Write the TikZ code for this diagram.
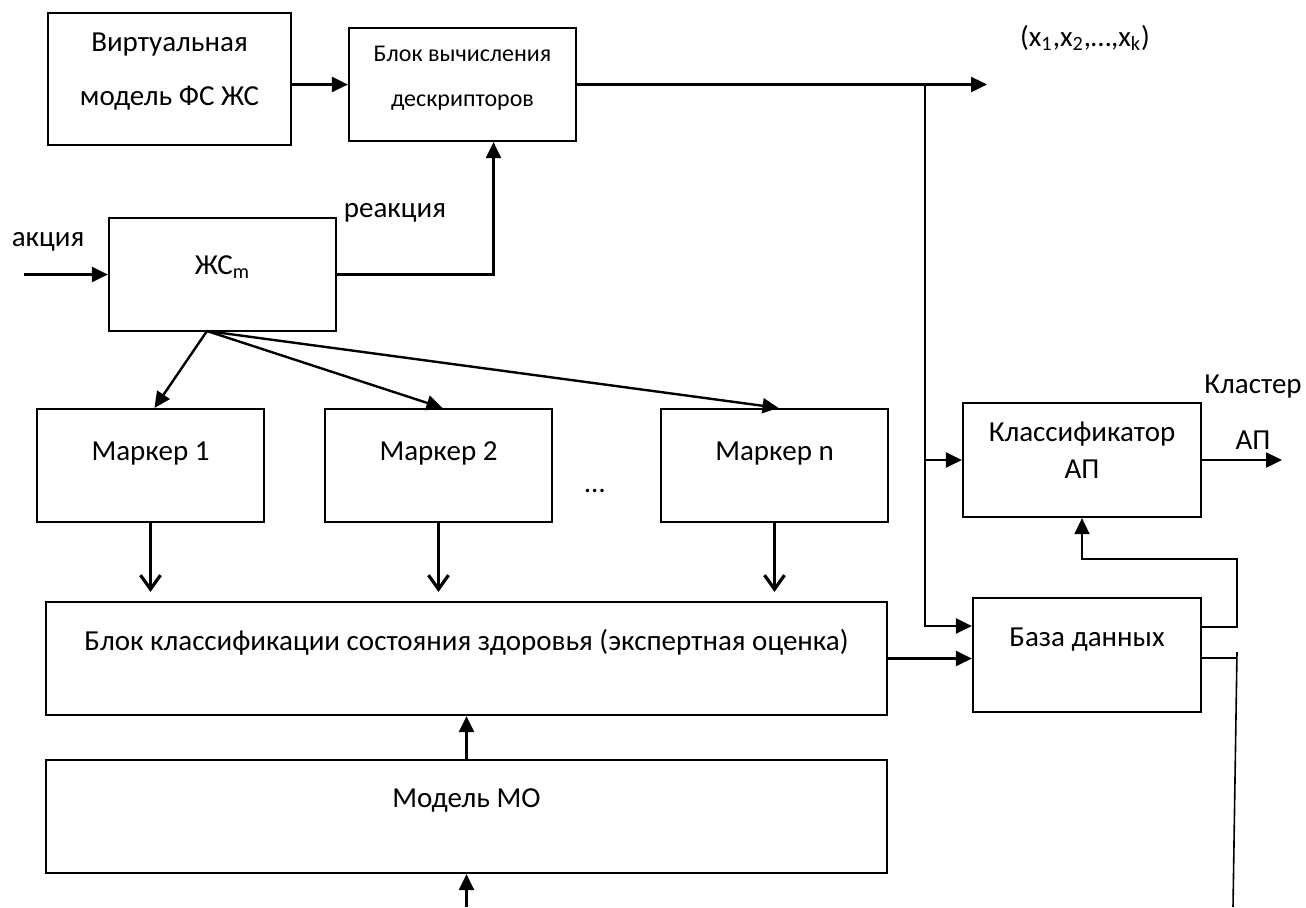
\documentclass[tikz,border=0pt]{standalone}
\usepackage{fontspec}
\setmainfont{Carlito}
\usetikzlibrary{arrows.meta,calc}

\begin{document}
\begin{tikzpicture}[
  x=0.5pt, y=-0.5pt,
  font=\fontsize{14.5}{17.5}\selectfont,
  line width=1.2pt,
  blok/.style={draw, line width=1.1pt, align=center, inner sep=2pt, text height=10pt},
  lbl/.style={inner sep=1pt},
  barb/.style={line width=1.6pt, -{Straight Barb[length=7pt,width=10pt]}},
  thinln/.style={line width=0.8pt},
  >={Triangle[length=8pt,width=7.5pt]},
]
\useasboundingbox (0,0) rectangle (1306,907);

\node[blok, minimum width=121.5pt, minimum height=66pt, text height=29.5pt, text depth=3pt, font=\fontsize{14.5}{27}\selectfont] (V) at (169.5,79) {Виртуальная\\модель ФС ЖС};
\node[blok, minimum width=113.5pt, minimum height=56.5pt, text height=24.5pt, text depth=3pt, font=\fontsize{12}{22.5}\selectfont] (D) at (462.5,84.5) {Блок вычисления\\дескрипторов};
\node[blok, minimum width=113.5pt, minimum height=56.5pt, text depth=10pt] (Zh) at (222.5,274.5) {ЖС\textsubscript{m}};

\node[blok, minimum width=113.5pt, minimum height=56.5pt, text depth=15.5pt] (m1) at (150.5,465.5) {Маркер 1};
\node[blok, minimum width=113.5pt, minimum height=56.5pt, text depth=15.5pt] (m2) at (438.5,465.5) {Маркер 2};
\node[blok, minimum width=113.5pt, minimum height=56.5pt, text depth=15.5pt] (mn) at (774.5,465.5) {Маркер n};
\node[lbl] (dots) at (595,491) {…};

\node[blok, minimum width=420.5pt, minimum height=56.5pt, text depth=18.5pt] (K) at (466.5,658.5) {Блок классификации состояния здоровья (экспертная оценка)};
\node[blok, minimum width=420.5pt, minimum height=56.5pt, text depth=19.5pt] (MO) at (466.5,816.5) {Модель МО};

\node[blok, minimum width=119pt, minimum height=57pt, text height=21pt, text depth=3pt, font=\fontsize{14.5}{18.5}\selectfont] (C) at (1082,460) {Классификатор\\АП};
\node[blok, minimum width=114pt, minimum height=57pt, text depth=19pt] (DB) at (1087,655) {База данных};

% labels
\node[lbl] (akc) at (48,242) {акция};
\node[lbl] (reak) at (395,213) {реакция};
\node[lbl] (xs) at (1085,38) {(x\textsubscript{1},x\textsubscript{2},…,x\textsubscript{k})};
\node[lbl] (klas) at (1253,387) {Кластер};
\node[lbl] (ap) at (1253,440) {АП};

% free ends
\coordinate (inp) at (24,274.5);
\coordinate (xout) at (987,84.5);
\coordinate (br) at (925,84.5);
\coordinate (cout) at (1282,460);
\coordinate (apex) at (207,331);
\coordinate (fb) at (1237,559);
\coordinate (dbo) at (1237,658);
\coordinate (vtop) at (1237,652);
\coordinate (vbot) at (1233,907);
\coordinate (moin) at (466.5,907);

\draw[->] (inp) -- (Zh.west);
\draw[->] (Zh.east) -| ([xshift=15.5pt]D.south);
\draw[->] (V.east |- D.west) -- (D.west);
\draw[->] (D.east) -- (xout);
\draw[->] (br) |- ([yshift=14.5pt]DB.west);
\draw[->] (br |- C.west) -- (C.west);
\draw[->] (C.east) -- (cout);
\draw[->] (K.east) -- (K.east -| DB.west);
\draw[->] (MO.north) -- (K.south);
\draw[->] (moin) -- (MO.south);

\foreach \m in {m1,m2,mn} \draw[->] (apex) -- ([xshift=2pt]\m.north);
\foreach \m in {m1,m2,mn} \draw[barb] (\m.south) -- ($(\m.south |- K.north)+(0,-9)$);

\draw[->, thinln] ([yshift=14pt]DB.east) -| (fb) -| (C.south);
\draw[thinln] ([yshift=-1.5pt]DB.east) -- (dbo);
\draw[thinln] (vtop) -- (vbot);
\end{tikzpicture}
\end{document}
